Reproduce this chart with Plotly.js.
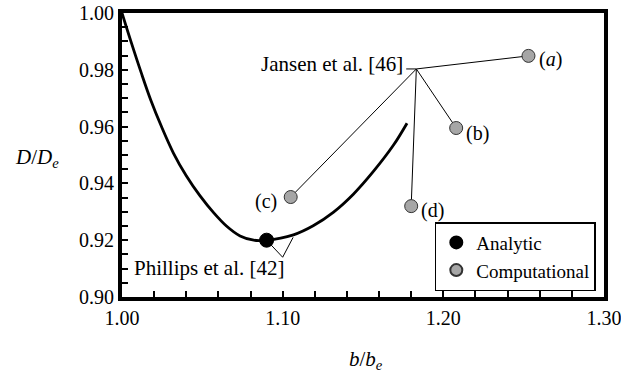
<!DOCTYPE html>
<html>
<head>
<meta charset="utf-8">
<script src="https://cdn.plot.ly/plotly-3.0.1.min.js"></script>
<style>html,body{margin:0;padding:0;background:#fff;font-family:"Liberation Serif",serif;}#chart{width:621px;height:375px;}</style>
</head>
<body>
<div id="chart"></div>
<script>
// Phillips et al. analytic curve
var curveX = [1.000, 1.006, 1.012, 1.018, 1.0245, 1.032, 1.040, 1.0486, 1.057, 1.065, 1.0735, 1.082, 1.090, 1.1067, 1.119, 1.1317, 1.144, 1.1566, 1.169, 1.1774];
var curveY = [1.000, 0.9892, 0.9789, 0.9692, 0.9601, 0.9507, 0.9427, 0.9356, 0.9297, 0.9250, 0.9215, 0.9200, 0.9200, 0.9219, 0.9251, 0.9299, 0.9362, 0.9443, 0.9535, 0.9612];

// Analytic optimum
var analyticX = [1.090];
var analyticY = [0.920];

// Computational results (a)-(d)
var compLabels = ["(<i>a</i>)", "(b)", "(c)", "(d)"];
var compX = [1.253, 1.208, 1.105, 1.180];
var compY = [0.9849, 0.9595, 0.9352, 0.9320];

// Callout geometry
var jansenHub = [1.1832, 0.9803];
var jansenTail = [1.1769, 0.9803];
var phillipsElbow = [1.100, 0.9140];
var phillipsCurvePt = [1.1065, 0.9210];

var tickVals = {x: [1.0, 1.1, 1.2, 1.3], y: [0.90, 0.92, 0.94, 0.96, 0.98, 1.00]};

var FONT = '"Liberation Serif", "Times New Roman", Times, serif';

// Jansen callout lines
var jx = [jansenTail[0], jansenHub[0]], jy = [jansenTail[1], jansenHub[1]];
for (var i = 0; i < compX.length; i++) {
  jx.push(null, jansenHub[0], compX[i]);
  jy.push(null, jansenHub[1], compY[i]);
}

var traces = [
  {x: curveX, y: curveY, mode: 'lines', line: {color: '#000', width: 2.8, shape: 'spline', smoothing: 1}, showlegend: false, hoverinfo: 'skip'},
  {x: jx, y: jy, mode: 'lines', line: {color: '#000', width: 1}, showlegend: false, hoverinfo: 'skip'},
  {x: [analyticX[0], phillipsElbow[0], phillipsCurvePt[0]], y: [analyticY[0], phillipsElbow[1], phillipsCurvePt[1]], mode: 'lines', line: {color: '#000', width: 1}, showlegend: false, hoverinfo: 'skip'},
  {x: analyticX, y: analyticY, mode: 'markers', name: 'Analytic', marker: {color: '#000', size: 14, line: {color: '#000', width: 1}}},
  {x: compX, y: compY, mode: 'markers', name: 'Computational', marker: {color: '#a6a6a6', size: 13, line: {color: '#333', width: 1}}}
];

var annotations = [
  {x: jansenTail[0] - 0.0005, y: jansenHub[1] + 0.0018, xref: 'x', yref: 'y', text: 'Jansen et al. [46]', showarrow: false, xanchor: 'right', yanchor: 'middle', font: {family: FONT, size: 21, color: '#000'}},
  {x: 1.0542, y: 0.9102, xref: 'x', yref: 'y', text: 'Phillips et al. [42]', showarrow: false, xanchor: 'center', yanchor: 'middle', font: {family: FONT, size: 21, color: '#000'}},
  {x: 1.2586, y: compY[0] - 0.0012, xref: 'x', yref: 'y', text: compLabels[0], showarrow: false, xanchor: 'left', yanchor: 'middle', font: {family: FONT, size: 20, color: '#000'}},
  {x: 1.2131, y: compY[1] - 0.0018, xref: 'x', yref: 'y', text: compLabels[1], showarrow: false, xanchor: 'left', yanchor: 'middle', font: {family: FONT, size: 20, color: '#000'}},
  {x: 1.0978, y: compY[2] - 0.0017, xref: 'x', yref: 'y', text: compLabels[2], showarrow: false, xanchor: 'right', yanchor: 'middle', font: {family: FONT, size: 20, color: '#000'}},
  {x: 1.1850, y: compY[3] - 0.0017, xref: 'x', yref: 'y', text: compLabels[3], showarrow: false, xanchor: 'left', yanchor: 'middle', font: {family: FONT, size: 20, color: '#000'}},
  {x: -0.226, y: 0.491, xref: 'paper', yref: 'paper', text: '<i>D</i>/<i>D<sub>e</sub></i>', showarrow: false, xanchor: 'left', yanchor: 'middle', font: {family: FONT, size: 21, color: '#000'}},
  {x: 0.506, y: -0.221, xref: 'paper', yref: 'paper', text: '<i>b</i>/<i>b<sub>e</sub></i>', showarrow: false, xanchor: 'center', yanchor: 'middle', font: {family: FONT, size: 21, color: '#000'}}
];

var layout = {
  width: 621, height: 375,
  margin: {l: 122, r: 17, t: 13, b: 78},
  paper_bgcolor: '#fff', plot_bgcolor: '#fff',
  font: {family: FONT, size: 20, color: '#000'},
  showlegend: true,
  legend: {x: 0.983, y: 0.021, xanchor: 'right', yanchor: 'bottom', bordercolor: '#000', borderwidth: 1.5, bgcolor: '#fff', itemsizing: 'constant', font: {family: FONT, size: 19, color: '#000'}, tracegroupgap: 0},
  xaxis: {range: [1.0, 1.30001], tickvals: tickVals.x, tickformat: '.2f', ticklabeloverflow: 'allow', showline: true, linewidth: 4, linecolor: '#000', mirror: true, showgrid: false, zeroline: false, ticks: 'inside', ticklen: 6, tickwidth: 2, tickcolor: '#000', minor: {dtick: 0.02, tick0: 1.0, ticks: 'inside', ticklen: 6, tickwidth: 2, tickcolor: '#000', showgrid: false}, fixedrange: true},
  yaxis: {range: [0.9, 1.0], tickvals: tickVals.y, tickformat: '.2f', ticklabeloverflow: 'allow', showline: true, linewidth: 4, linecolor: '#000', mirror: true, showgrid: false, zeroline: false, ticks: 'inside', ticklen: 6, tickwidth: 2, tickcolor: '#000', minor: {dtick: 0.005, tick0: 0.9, ticks: 'inside', ticklen: 6, tickwidth: 2, tickcolor: '#000', showgrid: false}, fixedrange: true},
  annotations: annotations
};

Plotly.newPlot('chart', traces, layout, {displayModeBar: false, staticPlot: true});
</script>
</body>
</html>
